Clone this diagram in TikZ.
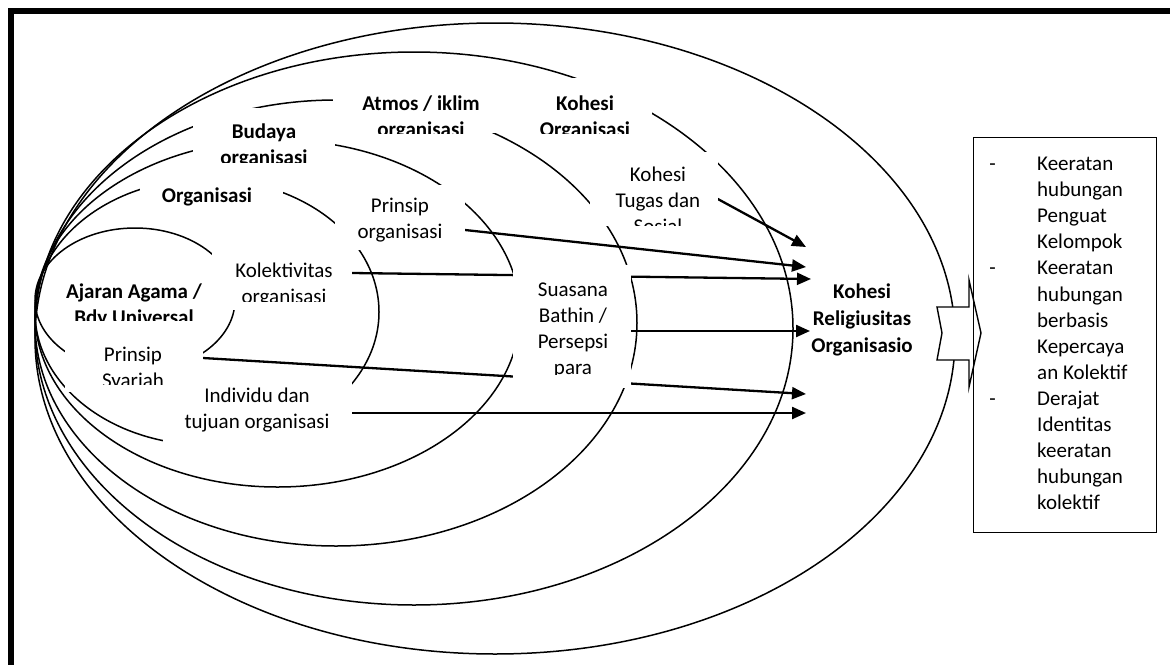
\documentclass[tikz,border=0pt]{standalone}
\usepackage{fontspec}
\setmainfont{Carlito}
\usetikzlibrary{arrows.meta}
\newcommand\tl[2]{\parbox[t]{#1}{\centering #2}}
\newcommand\rl[1]{\parbox[t]{118pt}{\raggedright #1}}
\newcommand\wb[5]{\node[wbox, minimum width={(#4-#2)*1pt}, minimum height={(#5-#3)*1pt}] (#1) at ({(#2+#4)/2},{(#3+#5)/2}) {};}
\begin{document}
\begin{tikzpicture}[x=1pt,y=-1pt,
  ell/.style={line width=1.5pt},
  arr/.style={line width=2.3pt,-{Triangle[length=14pt,width=12pt]}},
  wbox/.style={fill=white,draw=none,inner sep=0pt,outer sep=0pt},
  txt/.style={font=\fontsize{21}{26}\selectfont,inner sep=0pt,anchor=base},
  btxt/.style={font=\fontsize{21}{26}\selectfont\bfseries,inner sep=0pt,anchor=base},
  rtxt/.style={font=\fontsize{21}{26.1}\selectfont,inner sep=0pt,anchor=base west},
]
\useasboundingbox (0,0) rectangle (1170,664);
% frame
\draw[line width=5.5pt] (10.8,700) -- (10.8,11.2) -- (1200,11.2);
% nested ellipses
\draw[ell] (135,300) ellipse [x radius=100, y radius=72];
\draw[ell] (207,312) ellipse [x radius=172, y radius=133];
\draw[ell] (277.5,313.5) ellipse [x radius=242.5, y radius=173.5];
\draw[ell] (336,323) ellipse [x radius=301, y radius=223];
\draw[ell] (414,328.5) ellipse [x radius=379, y radius=276.5];
\draw[ell] (495,338.5) ellipse [x radius=460, y radius=315.5];
% arrow coordinates
\coordinate (sKT) at (716,198);  \coordinate (tKT) at (806,247);
\coordinate (sPO) at (465,230);  \coordinate (tPO) at (806,267);
\coordinate (sKol) at (352,273); \coordinate (tKol) at (811,279);
\coordinate (sSua) at (631,331); \coordinate (tSua) at (810,331);
\coordinate (sPS) at (203,358);  \coordinate (tPS) at (806,394);
\coordinate (sInd) at (352,413); \coordinate (tInd) at (806,413);
\draw[arr] (sKT) -- (tKT);
\draw[arr] (sPO) -- (tPO);
\draw[arr] (sKol) -- (tKol);
\draw[arr] (sSua) -- (tSua);
\draw[arr] (sPS) -- (tPS);
\draw[arr] (sInd) -- (tInd);
% white text boxes
\wb{bAtmos}{333}{85}{510}{133}
\wb{bKohOrg}{530}{78}{652}{133}
\wb{bBudaya}{193}{108}{335}{162}
\wb{bOrg}{140}{172}{283}{212}
\wb{bPrOrg}{335}{185}{465}{250}
\wb{bKohTug}{590}{152}{718}{226}
\wb{bKol}{212}{252}{352}{310}
\wb{bAjaran}{58}{270}{205}{320}
\wb{bPrSy}{65}{333}{203}{392}
\wb{bInd}{163}{374}{352}{447}
\wb{bSua}{513}{265}{631}{388}
% texts (clipped like the original text boxes)
\begin{scope}\clip (333,85) rectangle (510,133);
\node[btxt] (lAtmos) at (421,110) {\tl{170pt}{Atmos / iklim\\organisasi}};\end{scope}
\begin{scope}\clip (530,78) rectangle (652,133);
\node[btxt] (lKohOrg) at (585,110) {\tl{120pt}{Kohesi\\Organisasi}};\end{scope}
\begin{scope}\clip (193,108) rectangle (335,162);
\node[btxt] (lBudaya) at (264,138) {\tl{140pt}{Budaya\\organisasi}};\end{scope}
\begin{scope}\clip (140,172) rectangle (283,212);
\node[btxt] (lOrg) at (207,202) {\tl{140pt}{Organisasi}};\end{scope}
\begin{scope}\clip (335,185) rectangle (465,248);
\node[txt] (lPrOrg) at (400,212) {\tl{130pt}{Prinsip\\organisasi}};\end{scope}
\begin{scope}\clip (590,152) rectangle (718,225);
\node[txt] (lKohTug) at (658,181.5) {\tl{128pt}{Kohesi\\Tugas dan\\Sosial}};\end{scope}
\begin{scope}\clip (212,252) rectangle (352,301);
\node[txt] (lKol) at (284,277) {\tl{140pt}{Kolektivitas\\organisasi}};\end{scope}
\begin{scope}\clip (58,270) rectangle (205,320);
\node[btxt] (lAjaran) at (134,298) {\tl{150pt}{Ajaran Agama /\\Bdy Universal}};\end{scope}
\begin{scope}\clip (65,333) rectangle (203,384);
\node[txt] (lPrSy) at (133,361) {\tl{138pt}{Prinsip\\Syariah}};\end{scope}
\begin{scope}\clip (163,374) rectangle (352,447);
\node[txt] (lInd) at (257,402) {\tl{189pt}{Individu dan\\tujuan organisasi}};\end{scope}
\begin{scope}\clip (513,265) rectangle (631,374);
\node[txt] (lSua) at (573,296.5) {\tl{118pt}{Suasana\\Bathin /\\Persepsi\\para}};\end{scope}
\begin{scope}\clip (810,275) rectangle (918,368);
\node[btxt,font=\fontsize{21}{27}\selectfont\bfseries] (lKohRel) at (862,298) {\tl{108pt}{Kohesi\\Religiusitas\\Organisasio}};\end{scope}
% notched arrow
\draw[line width=1.4pt, fill=white] (937,307) -- (969,307) -- (969,280) -- (981,333) -- (969,387) -- (969,360) -- (937,360) -- (942,333) -- cycle;
% right box
\node[draw, line width=1.4pt, inner sep=0pt, minimum width=183pt, minimum height=395pt, anchor=north west] (rbox) at (973,137) {};
\node[txt] (d1) at (992.5,170.5) {-};
\node[txt] (d2) at (992.5,274.9) {-};
\node[txt] (d3) at (992.5,405.4) {-};
\node[rtxt] (r1) at (1037,170.5) {\rl{Keeratan\\hubungan\\Penguat\\Kelompok}};
\node[rtxt] (r2) at (1037,274.9) {\rl{Keeratan\\hubungan\\berbasis\\Kepercaya\\an Kolektif}};
\node[rtxt] (r3) at (1037,405.4) {\rl{Derajat\\Identitas\\keeratan\\hubungan\\kolektif}};
\end{tikzpicture}
\end{document}
